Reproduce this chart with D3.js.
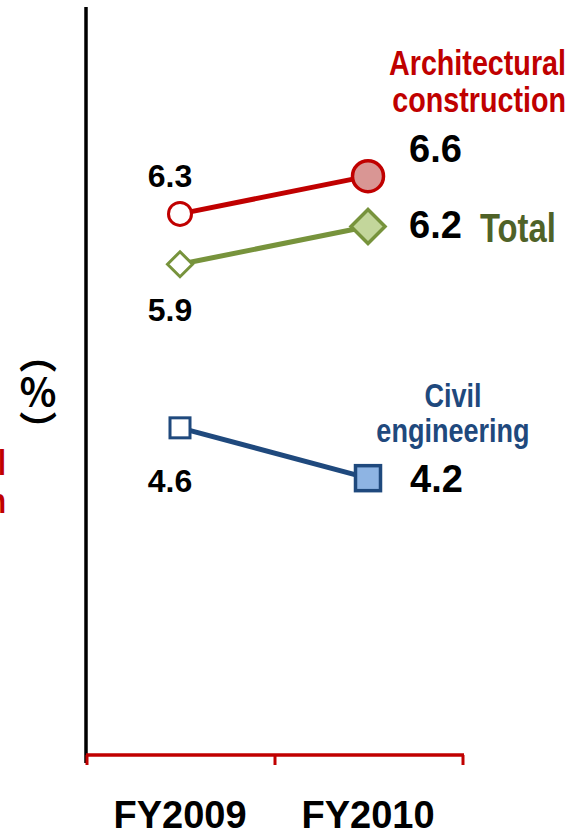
<!DOCTYPE html>
<html>
<head>
<meta charset="utf-8">
<script src="https://cdn.jsdelivr.net/npm/d3@7"></script>
<style>
  body { margin: 0; background: #fff; }
  svg { display: block; }
</style>
</head>
<body>
<svg id="chart" width="583" height="832"></svg>
<script>
// Operating margin by segment (%)
const years = ["FY2009", "FY2010"];
const architectural = [6.3, 6.6];
const total = [5.9, 6.2];
const civil = [4.6, 4.2];
const seriesNames = ["Architectural construction", "Total", "Civil engineering"];
const yDomain = [2, 8];

const svg = d3.select("#chart");
const plain = "'Liberation Sans', Arial, sans-serif";

const x = d3.scaleBand().domain(years).range([86, 462]).padding(0);
const cx = d => x(d) + x.bandwidth() / 2;
const y = d3.scaleLinear().domain(yDomain).range([755, 0]);

const series = [
  { name: seriesNames[0], values: architectural, line: "#C00000", fill: "#D99694", shape: "circle" },
  { name: seriesNames[1], values: total, line: "#77933C", fill: "#C3D69B", shape: "diamond" },
  { name: seriesNames[2], values: civil, line: "#1F497D", fill: "#8EB4E3", shape: "square" }
];

// Value axis (no ticks)
svg.append("line")
  .attr("x1", 86).attr("x2", 86)
  .attr("y1", y(yDomain[1]) + 7).attr("y2", y(yDomain[0]) + 8)
  .attr("stroke", "#000").attr("stroke-width", 3.5);

// Category axis with ticks on band boundaries
const xAxisY = y(yDomain[0]);
svg.append("line")
  .attr("x1", x.range()[0]).attr("x2", x.range()[1] + 2)
  .attr("y1", xAxisY).attr("y2", xAxisY)
  .attr("stroke", "#C00000").attr("stroke-width", 3.5);
const boundaries = [x.range()[0], ...years.slice(1).map(d => x(d)), x.range()[1]];
svg.selectAll(".xtick").data(boundaries).join("line")
  .attr("class", "xtick")
  .attr("x1", d => d + 1).attr("x2", d => d + 1)
  .attr("y1", xAxisY).attr("y2", xAxisY + 10)
  .attr("stroke", "#C00000").attr("stroke-width", 3);

svg.selectAll(".xlabel").data(years).join("text")
  .attr("class", "xlabel")
  .attr("x", d => cx(d))
  .attr("y", 828)
  .attr("text-anchor", "middle")
  .attr("font-family", plain)
  .attr("font-weight", "bold")
  .attr("font-size", 38)
  .attr("fill", "#000")
  .text(d => d);

// Unit label, vertical Japanese-style
svg.append("text")
  .attr("x", 38).attr("y", 335)
  .attr("writing-mode", "vertical-rl")
  .attr("font-family", "'Noto Sans CJK JP', sans-serif")
  .attr("font-weight", "bold")
  .attr("font-size", 38)
  .attr("fill", "#000")
  .text("（％）");

// Lines
const line = d3.line().x((v, i) => cx(years[i])).y(v => y(v));
series.forEach(s => {
  svg.append("path")
    .attr("d", line(s.values))
    .attr("fill", "none")
    .attr("stroke", s.line)
    .attr("stroke-width", 5);
});

// Markers: open for FY2009, filled and larger for FY2010
const markerSize = [
  { circle: 11.5, diamond: 12.5, square: 10, stroke: 3 },
  { circle: 15.5, diamond: 17, square: 12.5, stroke: 3.5 }
];
series.forEach(s => {
  s.values.forEach((v, i) => {
    const px = cx(years[i]), py = y(v), m = markerSize[i];
    const fill = i === 0 ? "#fff" : s.fill;
    let el;
    if (s.shape === "circle") {
      el = svg.append("circle").attr("cx", px).attr("cy", py).attr("r", m.circle);
    } else if (s.shape === "diamond") {
      const h = m.diamond;
      el = svg.append("path").attr("d", `M${px},${py - h}L${px + h},${py}L${px},${py + h}L${px - h},${py}Z`);
    } else {
      const h = m.square;
      el = svg.append("rect").attr("x", px - h).attr("y", py - h).attr("width", 2 * h).attr("height", 2 * h);
    }
    el.attr("fill", fill).attr("stroke", s.line).attr("stroke-width", m.stroke).attr("stroke-linejoin", "miter");
  });
});

// Value labels
const valueLabels = [
  { v: architectural[0], i: 0, dx: -10, dy: -27, size: 32 },
  { v: total[0], i: 0, dx: -10, dy: 57, size: 32 },
  { v: civil[0], i: 0, dx: -10, dy: 64, size: 32 },
  { v: architectural[1], i: 1, dx: 41, dy: -14, size: 38 },
  { v: total[1], i: 1, dx: 41, dy: 11, size: 38 },
  { v: civil[1], i: 1, dx: 42, dy: 14, size: 38 }
];
svg.selectAll(".vlabel").data(valueLabels).join("text")
  .attr("class", "vlabel")
  .attr("x", d => cx(years[d.i]) + d.dx)
  .attr("y", d => y(d.v) + d.dy)
  .attr("text-anchor", d => d.i === 0 ? "middle" : "start")
  .attr("font-family", plain)
  .attr("font-weight", "bold")
  .attr("font-size", d => d.size)
  .attr("fill", "#000")
  .text(d => d.v.toFixed(1));

// Series names, set in a condensed face
function nameLabel(lines, xPos, yPos, lh, anchor, color, size) {
  const g = svg.append("g")
    .attr("transform", `translate(${xPos},${yPos}) scale(0.82,1)`);
  const t = g.append("text")
    .attr("text-anchor", anchor)
    .attr("font-family", plain)
    .attr("font-weight", "bold")
    .attr("font-size", size)
    .attr("fill", color);
  lines.forEach((l, k) => {
    t.append("tspan").attr("x", 0).attr("y", k * lh).text(l);
  });
}
nameLabel(["Architectural", "construction"], 566, 75, 37, "end", "#C00000", 35);
nameLabel(["Architectural", "construction"], 6, 475, 38, "end", "#C00000", 35);
nameLabel(["Total"], 480, 242, 0, "start", "#4F6228", 40);
nameLabel(["Civil", "engineering"], 453, 407, 35, "middle", "#1F497D", 33);
</script>
</body>
</html>
